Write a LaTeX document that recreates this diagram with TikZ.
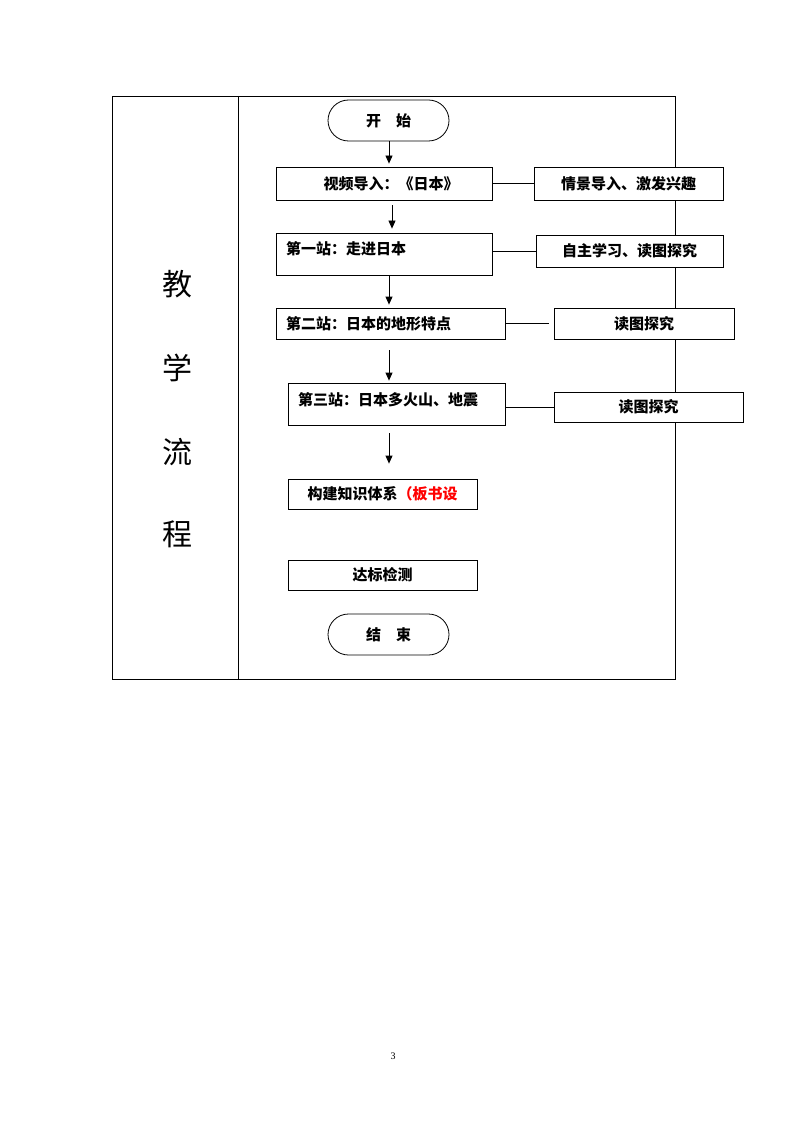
\documentclass[tikz,border=0pt]{standalone}
\usepackage{fontspec}
\setmainfont{Liberation Serif}
\newfontfamily\cjk{Noto Sans CJK SC}
\usetikzlibrary{arrows.meta,shapes.misc,calc}
\tikzset{
  box/.style={draw=black, line width=0.8pt, fill=white, inner sep=0pt},
  term/.style={draw=black, line width=0.8pt, fill=white, rounded rectangle, minimum width=121pt, minimum height=41pt, inner sep=0pt, font=\cjk\bfseries\fontsize{15pt}{15pt}\selectfont},
  txt/.style={font=\cjk\bfseries\fontsize{15pt}{15pt}\selectfont, inner sep=0pt},
  big/.style={font=\cjk\fontsize{30pt}{30pt}\selectfont, inner sep=0pt},
  flow/.style={line width=0.8pt, -{Triangle[length=8pt,width=7pt]}},
  link/.style={line width=0.8pt}
}
\begin{document}
\begin{tikzpicture}[x=1pt,y=-1pt]
\useasboundingbox (0,0) rectangle (794,1123);
% table
\draw[line width=0.8pt] (112,96) rectangle (675,679);
\draw[line width=0.8pt] (238,96) -- (238,679);
\node[big] (c1) at (177,284) {教};
\node[big] (c2) at (177,368) {学};
\node[big] (c3) at (177,452) {流};
\node[big] (c4) at (177,534) {程};
% flow nodes
\node[term] (start) at (388.5,120.5) {开\hspace{1em}始};
\node[box, minimum width=216pt, minimum height=33pt] (b1) at (384,183.5) {};
\node[txt] (t1) at (391,183.5) {视频导入：《日本》};
\node[box, minimum width=216pt, minimum height=42pt] (b2) at (384,254) {};
\node[txt, anchor=west] (t2) at (286,249) {第一站：走进日本};
\node[box, minimum width=229pt, minimum height=31pt] (b3) at (390.5,323.5) {};
\node[txt, anchor=west] (t3) at (286,324) {第二站：日本的地形特点};
\node[box, minimum width=217pt, minimum height=42pt] (b4) at (396.5,404) {};
\node[txt, anchor=west] (t4) at (298,400) {第三站：日本多火山、地震};
\node[box, minimum width=189pt, minimum height=30pt] (b5) at (382.5,494) {};
\node[txt] (t5) at (382.5,494) {构建知识体系\textcolor{red}{（板书设}};
\node[box, minimum width=189pt, minimum height=30pt, txt] (b6) at (382.5,575) {达标检测};
\node[term] (end) at (388.5,634.5) {结\hspace{1em}束};
% right boxes
\node[box, txt, minimum width=189pt, minimum height=33pt] (r1) at (628.5,183.5) {情景导入、激发兴趣};
\node[box, txt, minimum width=187pt, minimum height=32pt] (r2) at (629.5,251) {自主学习、读图探究};
\node[box, txt, minimum width=180pt, minimum height=31pt] (r3) at (644,323.5) {读图探究};
\node[box, txt, minimum width=189pt, minimum height=30pt] (r4) at (648.5,407) {读图探究};
% horizontal links
\draw[link] (b1.east) -- (r1.west);
\draw[link] (b2.east |- r2.west) -- (r2.west);
\draw[link, shorten >=5pt] (b3.east) -- (b3.east -| r3.west);
\draw[link] (b4.east |- r4.west) -- (r4.west);
% arrows
\draw[flow, shorten >=3pt] ([xshift=0.5pt]start.south) -- ([xshift=0.5pt]start.south |- b1.north);
\draw[flow, shorten <=5pt, shorten >=4pt] ([xshift=8pt]b1.south) -- ([xshift=8pt]b1.south |- b2.north);
\draw[flow, shorten >=3pt] ([xshift=5pt]b2.south) -- ([xshift=5pt]b2.south |- b3.north);
\draw[flow, shorten <=11pt, shorten >=2pt] ([xshift=-1.5pt]b3.south) -- ([xshift=-1.5pt]b3.south |- b4.north);
\draw[flow, shorten <=8pt, shorten >=15pt] ([xshift=-7.5pt]b4.south) -- ([xshift=-7.5pt]b4.south |- b5.north);
% page number
\node[font=\fontsize{10pt}{10pt}\selectfont, inner sep=0pt] (pg) at (393,1056) {3};
\end{tikzpicture}
\end{document}
